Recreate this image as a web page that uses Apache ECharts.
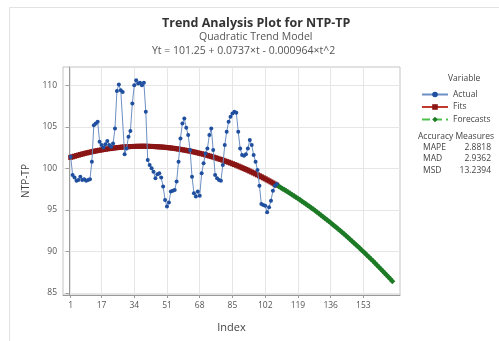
<!DOCTYPE html>
<html>
<head>
<meta charset="utf-8">
<script src="https://cdn.jsdelivr.net/npm/echarts@6/dist/echarts.min.js"></script>
<style>
  html, body { margin: 0; padding: 0; background: #fff; }
  #chart { width: 499px; height: 341px; }
</style>
</head>
<body>
<div id="chart"></div>
<script>
// observed series, index 1..108
const actual = [
  101.4, 99.2, 98.9, 98.5, 98.6, 99.0, 98.6, 98.7, 98.5, 98.6,
  98.7, 100.8, 105.2, 105.4, 105.6, 103.2, 102.8, 102.5, 102.9, 103.3,
  102.8, 102.6, 103.0, 104.8, 109.3, 110.1, 109.4, 109.2, 101.7, 102.4,
  103.8, 104.5, 107.8, 110.0, 110.6, 110.2, 110.3, 110.0, 110.3, 106.8,
  101.0, 100.4, 100.0, 99.6, 98.8, 99.3, 99.4, 98.9, 97.8, 96.2,
  95.4, 95.9, 97.2, 97.3, 97.4, 98.4, 100.8, 103.6, 105.4, 106.0,
  104.9, 104.0, 102.2, 99.0, 97.0, 96.6, 97.2, 96.7, 99.4, 100.6,
  101.8, 102.4, 104.0, 104.8, 102.2, 99.2, 98.8, 98.6, 98.5, 100.4,
  102.8, 104.4, 105.6, 106.2, 106.6, 106.8, 106.7, 104.4, 102.4, 101.6,
  101.5, 101.7, 102.4, 103.4, 102.8, 101.6, 100.8, 99.8, 97.9, 95.7,
  95.6, 95.5, 94.7, 95.3, 96.1, 97.3, 97.9, 98.1
];

// fitted trend, index 1..108
const fits = [
  101.32, 101.39, 101.46, 101.53, 101.59, 101.66, 101.72, 101.78, 101.84, 101.89,
  101.94, 102.00, 102.05, 102.09, 102.14, 102.18, 102.22, 102.26, 102.30, 102.34,
  102.37, 102.40, 102.44, 102.46, 102.49, 102.51, 102.54, 102.56, 102.58, 102.59,
  102.61, 102.62, 102.63, 102.64, 102.65, 102.65, 102.66, 102.66, 102.66, 102.66,
  102.65, 102.64, 102.64, 102.63, 102.61, 102.60, 102.58, 102.57, 102.55, 102.53,
  102.50, 102.48, 102.45, 102.42, 102.39, 102.35, 102.32, 102.28, 102.24, 102.20,
  102.16, 102.11, 102.07, 102.02, 101.97, 101.92, 101.86, 101.80, 101.75, 101.69,
  101.62, 101.56, 101.49, 101.42, 101.36, 101.28, 101.21, 101.13, 101.06, 100.98,
  100.89, 100.81, 100.73, 100.64, 100.55, 100.46, 100.37, 100.27, 100.17, 100.07,
  99.97, 99.87, 99.77, 99.66, 99.55, 99.44, 99.33, 99.21, 99.10, 98.98,
  98.86, 98.74, 98.61, 98.49, 98.36, 98.23, 98.10, 97.97
];

// forecasts, index 109..168
const forecasts = [
  97.83, 97.69, 97.55, 97.41, 97.27, 97.12, 96.98, 96.83, 96.68, 96.52,
  96.37, 96.21, 96.05, 95.89, 95.73, 95.57, 95.40, 95.23, 95.06, 94.89,
  94.72, 94.54, 94.36, 94.18, 94.00, 93.82, 93.63, 93.44, 93.25, 93.06,
  92.87, 92.67, 92.48, 92.28, 92.08, 91.87, 91.67, 91.46, 91.25, 91.04,
  90.83, 90.62, 90.40, 90.18, 89.96, 89.74, 89.51, 89.29, 89.06, 88.83,
  88.60, 88.36, 88.13, 87.89, 87.65, 87.41, 87.17, 86.92, 86.67, 86.42
];

const xTicks = [1, 17, 34, 51, 68, 85, 102, 119, 136, 153];
const yTicks = [85, 90, 95, 100, 105, 110];

const measureNames = ["MAPE", "MAD", "MSD"];
const measureValues = ["2.8818", "2.9362", "13.2394"];

const chart = echarts.init(document.getElementById("chart"));
const font = "'Open Sans', 'Noto Sans', sans-serif";

const actualData = actual.map((v, i) => [i + 1, v]);
const fitsData = fits.map((v, i) => [i + 1, v]);
const foreData = forecasts.map((v, i) => [actual.length + i + 1, v]);

// text on the right side
const measureText = [];
measureNames.forEach((n, i) => {
  measureText.push({
    type: "text", left: 423, top: 143 + i * 11.5,
    style: { text: n, font: "8.5px " + font, fill: "#444" }
  });
  measureText.push({
    type: "text", right: 8, top: 143 + i * 11.5,
    style: { text: measureValues[i], font: "8.5px " + font, fill: "#444", textAlign: "right" }
  });
});

const option = {
  animation: false,
  textStyle: { fontFamily: font },
  grid: {
    left: 63, right: 99, top: 67, bottom: 46,
    show: true, borderColor: "#c4c4c4", borderWidth: 1, backgroundColor: "#fff"
  },
  graphic: [
    {
      type: "rect", left: 7, top: 5, silent: true, z: -10,
      shape: { width: 520, height: 360 },
      style: { fill: "none", stroke: "#e2e2e2", lineWidth: 1 }
    },
    {
      type: "text", left: 162, top: 17,
      style: { text: "Trend Analysis Plot for NTP-TP", font: "bold 12.5px " + font, fill: "#333" }
    },
    {
      type: "text", left: 199, top: 32,
      style: { text: "Quadratic Trend Model", font: "10.5px " + font, fill: "#555" }
    },
    {
      type: "text", left: 152, top: 46,
      style: { text: "Yt = 101.25 + 0.0737×t - 0.000964×t^2", font: "10.5px " + font, fill: "#555" }
    },
    {
      type: "text", left: 448, top: 74,
      style: { text: "Variable", font: "8.5px " + font, fill: "#444" }
    },
    {
      type: "text", left: 418, top: 132,
      style: { text: "Accuracy Measures", font: "8.5px " + font, fill: "#444" }
    }
  ].concat(measureText),
  legend: {
    data: ["Actual", "Fits", "Forecasts"],
    orient: "vertical",
    left: 416, top: 85,
    itemWidth: 26, itemHeight: 7, itemGap: 3.5,
    textStyle: { fontSize: 8.5, color: "#444" }
  },
  xAxis: {
    type: "value",
    min: -3, max: 172,
    name: "Index", nameLocation: "middle", nameGap: 27,
    nameTextStyle: { fontSize: 11, color: "#444" },
    axisLine: { show: true, lineStyle: { color: "#999" } },
    axisTick: { show: true, length: 3, customValues: xTicks, lineStyle: { color: "#999" } },
    axisLabel: { customValues: xTicks, fontSize: 8.5, color: "#555", margin: 6 },
    splitLine: { show: false }
  },
  yAxis: {
    type: "value",
    min: 84.75, max: 112.2,
    name: "NTP-TP", nameLocation: "middle", nameGap: 25,
    nameTextStyle: { fontSize: 10, color: "#444" },
    axisLine: { show: true, lineStyle: { color: "#999" } },
    axisTick: { show: true, length: 3, customValues: yTicks, lineStyle: { color: "#999" } },
    axisLabel: { customValues: yTicks, fontSize: 8.5, color: "#555", margin: 6 },
    splitLine: { show: false }
  },
  series: [
    // gridlines
    {
      type: "line",
      data: [],
      z: 0,
      silent: true,
      markLine: {
        z: 0,
        silent: true,
        symbol: "none",
        label: { show: false },
        lineStyle: { color: "#e6e6e6", width: 1, type: "solid" },
        data: xTicks.map(v => ({ xAxis: v })).concat(yTicks.map(v => ({ yAxis: v })))
      }
    },
    {
      name: "Actual",
      type: "line",
      data: actualData,
      symbol: "circle", symbolSize: 4,
      itemStyle: { color: "#1f4f9e" },
      lineStyle: { color: "#6d8fc4", width: 1 },
      z: 4
    },
    {
      name: "Fits",
      type: "line",
      data: fitsData,
      symbol: "rect", symbolSize: 5,
      itemStyle: { color: "#8a1515" },
      lineStyle: { color: "#c0392b", width: 1 },
      z: 3
    },
    {
      name: "Forecasts",
      type: "line",
      data: foreData,
      symbol: "diamond", symbolSize: 6,
      itemStyle: { color: "#1d7a25" },
      lineStyle: { color: "#4cc24c", width: 1.5, type: "dashed" },
      z: 3
    }
  ]
};

chart.setOption(option);
</script>
</body>
</html>
